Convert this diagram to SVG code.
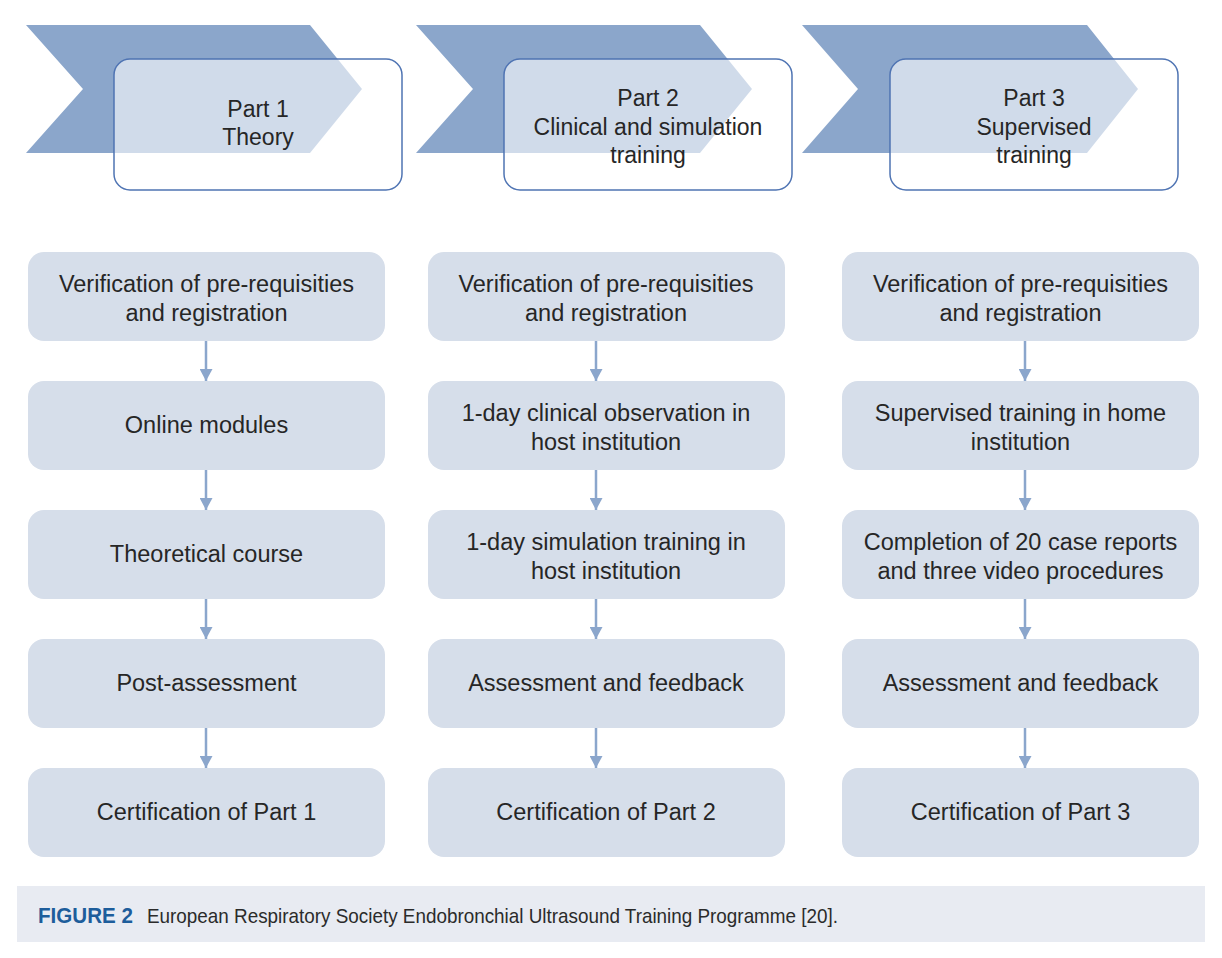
<svg xmlns="http://www.w3.org/2000/svg" width="1222" height="958" viewBox="0 0 1222 958">
<style>
.chev{fill:#8ba6cb}
.phase{fill:#ffffff;fill-opacity:0.6;stroke:#4f74b3;stroke-width:1.5}
.ht{font-family:"Liberation Sans",Arial,sans-serif;font-size:23px;fill:#262626;text-anchor:middle}
.box{fill:#d6deea}
.bt{font-family:"Liberation Sans",Arial,sans-serif;font-size:23.5px;fill:#262626;text-anchor:middle}
.conn{stroke:#8ba6cc;stroke-width:2.5;fill:none}
.cap{font-family:"Liberation Sans",Arial,sans-serif;font-size:21px;fill:#2b2b2b}
.capb{font-family:"Liberation Sans",Arial,sans-serif;font-weight:bold;font-size:21.5px;fill:#1d5d9b}
</style>
<defs>
<marker id="ah" markerUnits="userSpaceOnUse" markerWidth="14" markerHeight="13" viewBox="0 0 13 14" refX="13" refY="7" orient="auto">
<path d="M0,0 L13,7 L0,14 z" fill="#8ba6cc"/>
</marker>
</defs>
<rect width="1222" height="958" fill="#ffffff"/>

<g id="phase1">
<polygon class="chev" points="26,25 310,25 362,89 310,153 26,153 83,89"/>
<rect class="phase" x="114" y="59" width="288" height="131" rx="16"/>
<text class="ht" x="258" y="117">Part 1</text>
<text class="ht" x="258" y="145">Theory</text>
</g>
<g id="phase2">
<polygon class="chev" points="416,25 700,25 752,89 700,153 416,153 473,89"/>
<rect class="phase" x="504" y="59" width="288" height="131" rx="16"/>
<text class="ht" x="648" y="106">Part 2</text>
<text class="ht" x="648" y="135">Clinical and simulation</text>
<text class="ht" x="648" y="163">training</text>
</g>
<g id="phase3">
<polygon class="chev" points="802,25 1087,25 1138,89 1087,153 802,153 858,89"/>
<rect class="phase" x="890" y="59" width="288" height="131" rx="16"/>
<text class="ht" x="1034" y="106">Part 3</text>
<text class="ht" x="1034" y="135">Supervised</text>
<text class="ht" x="1034" y="163">training</text>
</g>

<g id="connectors">
<line class="conn" x1="206" y1="341" x2="206" y2="381" marker-end="url(#ah)"/>
<line class="conn" x1="206" y1="470" x2="206" y2="510" marker-end="url(#ah)"/>
<line class="conn" x1="206" y1="599" x2="206" y2="639" marker-end="url(#ah)"/>
<line class="conn" x1="206" y1="728" x2="206" y2="768" marker-end="url(#ah)"/>
<line class="conn" x1="596" y1="341" x2="596" y2="381" marker-end="url(#ah)"/>
<line class="conn" x1="596" y1="470" x2="596" y2="510" marker-end="url(#ah)"/>
<line class="conn" x1="596" y1="599" x2="596" y2="639" marker-end="url(#ah)"/>
<line class="conn" x1="596" y1="728" x2="596" y2="768" marker-end="url(#ah)"/>
<line class="conn" x1="1025" y1="341" x2="1025" y2="381" marker-end="url(#ah)"/>
<line class="conn" x1="1025" y1="470" x2="1025" y2="510" marker-end="url(#ah)"/>
<line class="conn" x1="1025" y1="599" x2="1025" y2="639" marker-end="url(#ah)"/>
<line class="conn" x1="1025" y1="728" x2="1025" y2="768" marker-end="url(#ah)"/>
</g>

<g id="c1n1"><rect class="box" x="28" y="252" width="357" height="89" rx="16"/>
<text class="bt" x="206.5" y="292">Verification of pre-requisities</text>
<text class="bt" x="206.5" y="321">and registration</text></g>
<g id="c1n2"><rect class="box" x="28" y="381" width="357" height="89" rx="16"/>
<text class="bt" x="206.5" y="433">Online modules</text></g>
<g id="c1n3"><rect class="box" x="28" y="510" width="357" height="89" rx="16"/>
<text class="bt" x="206.5" y="562">Theoretical course</text></g>
<g id="c1n4"><rect class="box" x="28" y="639" width="357" height="89" rx="16"/>
<text class="bt" x="206.5" y="691">Post-assessment</text></g>
<g id="c1n5"><rect class="box" x="28" y="768" width="357" height="89" rx="16"/>
<text class="bt" x="206.5" y="820">Certification of Part 1</text></g>

<g id="c2n1"><rect class="box" x="428" y="252" width="357" height="89" rx="16"/>
<text class="bt" x="606" y="292">Verification of pre-requisities</text>
<text class="bt" x="606" y="321">and registration</text></g>
<g id="c2n2"><rect class="box" x="428" y="381" width="357" height="89" rx="16"/>
<text class="bt" x="606" y="421">1-day clinical observation in</text>
<text class="bt" x="606" y="450">host institution</text></g>
<g id="c2n3"><rect class="box" x="428" y="510" width="357" height="89" rx="16"/>
<text class="bt" x="606" y="550">1-day simulation training in</text>
<text class="bt" x="606" y="579">host institution</text></g>
<g id="c2n4"><rect class="box" x="428" y="639" width="357" height="89" rx="16"/>
<text class="bt" x="606" y="691">Assessment and feedback</text></g>
<g id="c2n5"><rect class="box" x="428" y="768" width="357" height="89" rx="16"/>
<text class="bt" x="606" y="820">Certification of Part 2</text></g>

<g id="c3n1"><rect class="box" x="842" y="252" width="357" height="89" rx="16"/>
<text class="bt" x="1020.5" y="292">Verification of pre-requisities</text>
<text class="bt" x="1020.5" y="321">and registration</text></g>
<g id="c3n2"><rect class="box" x="842" y="381" width="357" height="89" rx="16"/>
<text class="bt" x="1020.5" y="421">Supervised training in home</text>
<text class="bt" x="1020.5" y="450">institution</text></g>
<g id="c3n3"><rect class="box" x="842" y="510" width="357" height="89" rx="16"/>
<text class="bt" x="1020.5" y="550">Completion of 20 case reports</text>
<text class="bt" x="1020.5" y="579">and three video procedures</text></g>
<g id="c3n4"><rect class="box" x="842" y="639" width="357" height="89" rx="16"/>
<text class="bt" x="1020.5" y="691">Assessment and feedback</text></g>
<g id="c3n5"><rect class="box" x="842" y="768" width="357" height="89" rx="16"/>
<text class="bt" x="1020.5" y="820">Certification of Part 3</text></g>

<g id="caption">
<rect x="17" y="886" width="1188" height="56" fill="#e8ebf2"/>
<text class="capb" x="38" y="923" textLength="95" lengthAdjust="spacingAndGlyphs">FIGURE 2</text>
<text class="cap" x="147" y="923" textLength="691" lengthAdjust="spacingAndGlyphs">European Respiratory Society Endobronchial Ultrasound Training Programme [20].</text>
</g>
</svg>
